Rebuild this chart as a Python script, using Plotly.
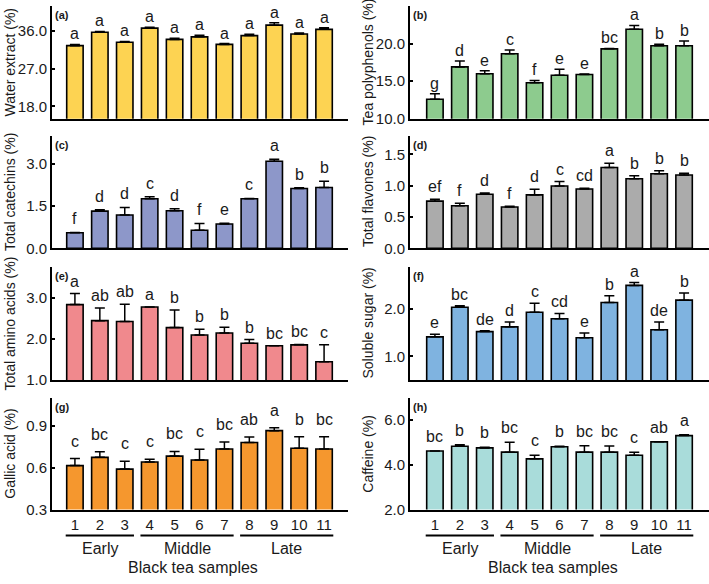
import plotly.graph_objects as go

W, H = 709, 584  # reference canvas size (used to convert pixel layout to paper fractions)

samples = [1, 2, 3, 4, 5, 6, 7, 8, 9, 10, 11]
sample_labels = ["1", "2", "3", "4", "5", "6", "7", "8", "9", "10", "11"]

water = [32.5, 35.7, 33.3, 36.7, 34.0, 34.6, 32.8, 34.9, 37.4, 35.3, 36.4]
water_err = [0.3, 0.2, 0.2, 0.2, 0.3, 0.4, 0.2, 0.3, 0.6, 0.2, 0.4]
water_sig = ["a"] * 11

poly = [12.6, 16.9, 16.0, 18.65, 14.8, 15.8, 15.9, 19.3, 21.9, 19.7, 19.7]
poly_err = [0.75, 0.8, 0.4, 0.5, 0.3, 0.8, 0.05, 0.05, 0.5, 0.2, 0.65]
poly_sig = ["g", "d", "e", "c", "f", "e", "e", "bc", "a", "b", "b"]

catechin = [0.55, 1.32, 1.18, 1.76, 1.33, 0.64, 0.86, 1.76, 3.09, 2.12, 2.16]
catechin_err = [0.01, 0.05, 0.27, 0.07, 0.07, 0.24, 0.03, 0.01, 0.07, 0.03, 0.22]
catechin_sig = ["f", "d", "d", "c", "d", "f", "e", "c", "a", "b", "b"]

flavone = [0.753, 0.68, 0.864, 0.66, 0.853, 0.995, 0.948, 1.29, 1.11, 1.19, 1.17]
flavone_err = [0.03, 0.04, 0.02, 0.01, 0.09, 0.07, 0.01, 0.07, 0.05, 0.05, 0.03]
flavone_sig = ["ef", "f", "d", "f", "d", "c", "cd", "a", "b", "b", "b"]

amino = [2.84, 2.45, 2.43, 2.78, 2.28, 2.10, 2.15, 1.90, 1.84, 1.86, 1.45]
amino_err = [0.27, 0.31, 0.42, 0.0, 0.43, 0.14, 0.14, 0.09, 0.0, 0.01, 0.41]
amino_sig = ["a", "ab", "ab", "a", "b", "b", "b", "b", "bc", "bc", "c"]

sugar = [1.41, 2.03, 1.52, 1.62, 1.925, 1.79, 1.39, 2.13, 2.49, 1.56, 2.18]
sugar_err = [0.055, 0.03, 0.02, 0.1, 0.19, 0.11, 0.1, 0.14, 0.06, 0.16, 0.15]
sugar_sig = ["e", "bc", "de", "d", "c", "cd", "e", "b", "a", "de", "b"]

gallic = [0.615, 0.674, 0.59, 0.641, 0.683, 0.655, 0.734, 0.78, 0.865, 0.739, 0.734]
gallic_err = [0.05, 0.04, 0.056, 0.02, 0.033, 0.077, 0.05, 0.04, 0.02, 0.082, 0.087]
gallic_sig = ["c", "bc", "c", "c", "bc", "c", "bc", "ab", "a", "b", "bc"]

caffeine = [4.62, 4.83, 4.76, 4.57, 4.27, 4.81, 4.57, 4.57, 4.43, 5.03, 5.31]
caffeine_err = [0.0, 0.07, 0.03, 0.44, 0.16, 0.02, 0.29, 0.27, 0.13, 0.0, 0.04]
caffeine_sig = ["bc", "b", "b", "bc", "c", "b", "bc", "bc", "c", "ab", "a"]

groups = ["Early", "Middle", "Late"]
group_first = [1, 4, 8]
group_last = [3, 7, 11]

panels = [
    dict(tag="(a)", title="Water extract (%)", v=water, e=water_err, s=water_sig,
         color="#FDD352", rng=[15, 42], tv=[18, 27, 36], tt=["18.0", "27.0", "36.0"], shift=0),
    dict(tag="(b)", title="Tea polyphenols (%)", v=poly, e=poly_err, s=poly_sig,
         color="#8DCB8E", rng=[10, 25], tv=[10, 15, 20], tt=["10.0", "15.0", "20.0"], shift=0),
    dict(tag="(c)", title="Total catechins (%)", v=catechin, e=catechin_err, s=catechin_sig,
         color="#8D97C9", rng=[0, 4], tv=[0, 1.5, 3.0], tt=["0.0", "1.5", "3.0"], shift=3),
    dict(tag="(d)", title="Total flavones (%)", v=flavone, e=flavone_err, s=flavone_sig,
         color="#ABABAB", rng=[0, 1.8], tv=[0, 0.5, 1.0, 1.5], tt=["0.0", "0.5", "1.0", "1.5"], shift=2),
    dict(tag="(e)", title="Total amino acids (%)", v=amino, e=amino_err, s=amino_sig,
         color="#F0898D", rng=[1.0, 3.76], tv=[1.0, 2.0, 3.0], tt=["1.0", "2.0", "3.0"], shift=2),
    dict(tag="(f)", title="Soluble sugar (%)", v=sugar, e=sugar_err, s=sugar_sig,
         color="#7FB3E0", rng=[0.5, 2.88], tv=[1.0, 2.0], tt=["1.0", "2.0"], shift=1),
    dict(tag="(g)", title="Gallic acid (%)", v=gallic, e=gallic_err, s=gallic_sig,
         color="#F5972E", rng=[0.3, 1.1], tv=[0.3, 0.6, 0.9], tt=["0.3", "0.6", "0.9"], shift=7),
    dict(tag="(h)", title="Caffeine (%)", v=caffeine, e=caffeine_err, s=caffeine_sig,
         color="#A9DCDA", rng=[2, 7], tv=[2, 4, 6], tt=["2.0", "4.0", "6.0"], shift=4),
]

FONT = "Arial, Liberation Sans, sans-serif"
TXT = "#1a1a1a"

cols = [(52, 348, [0.08, 11.96]), (410, 709, [0, 12])]
rows = [(6, 120.5), (137.5, 251.7), (270.5, 385.5), (403.3, 516.7)]
title_x = [10, 368]

fig = go.Figure()
annotations = []
shapes = []

for i, p in enumerate(panels):
    n = i + 1
    c = i % 2
    r = i // 2
    xl, xr, xrng = cols[c]
    yt, yb = rows[r]
    xa = "x" if n == 1 else f"x{n}"
    ya = "y" if n == 1 else f"y{n}"
    fig.add_trace(go.Bar(
        x=samples, y=p["v"], xaxis=xa, yaxis=ya, width=0.66,
        marker=dict(color=p["color"], line=dict(color="black", width=1.6)),
        error_y=dict(type="data", symmetric=False, array=p["e"], arrayminus=[0] * 11,
                     color="black", thickness=1.5, width=5),
        showlegend=False, hoverinfo="skip",
    ))
    bottom_row = r == 3
    fig.layout[f"xaxis{n}" if n > 1 else "xaxis"] = dict(
        domain=[xl / W, xr / W], range=xrng, anchor=ya,
        showline=True, linewidth=2, linecolor="black", ticks="",
        tickvals=samples, ticktext=sample_labels, showticklabels=bottom_row,
        tickfont=dict(family=FONT, size=15, color=TXT),
        showgrid=False, zeroline=False, fixedrange=True,
    )
    fig.layout[f"yaxis{n}" if n > 1 else "yaxis"] = dict(
        domain=[1 - yb / H, 1 - yt / H], range=p["rng"], anchor=xa,
        showline=True, linewidth=2, linecolor="black",
        ticks="inside", ticklen=3, tickwidth=1.5, tickcolor="black",
        tickvals=p["tv"], ticktext=p["tt"],
        tickfont=dict(family=FONT, size=15, color=TXT),
        showgrid=False, zeroline=False, fixedrange=True,
    )
    for xv, v, e, s in zip(samples, p["v"], p["e"], p["s"]):
        annotations.append(dict(
            x=xv, y=v + e, xref=xa, yref=ya, text=s, showarrow=False,
            xanchor="center", yanchor="bottom", yshift=p["shift"],
            font=dict(family=FONT, size=16, color=TXT),
        ))
    annotations.append(dict(
        x=(xl + 1) / W, y=1 - (yt + 1) / H, xref="paper", yref="paper",
        text=f"<b>{p['tag']}</b>", showarrow=False, xanchor="left", yanchor="top",
        font=dict(family=FONT, size=11, color=TXT),
    ))
    annotations.append(dict(
        x=title_x[c] / W, y=1 - ((yt + yb) / 2) / H, xref="paper", yref="paper",
        text=p["title"], showarrow=False, textangle=-90,
        xanchor="center", yanchor="middle",
        font=dict(family=FONT, size=14, color=TXT),
    ))
    if bottom_row:
        for g, f0, f1 in zip(groups, group_first, group_last):
            shapes.append(dict(
                type="line", xref=xa, yref="paper",
                x0=f0 - 0.37, x1=f1 + 0.37, y0=1 - 543 / H, y1=1 - 543 / H,
                line=dict(color="black", width=2),
            ))
            annotations.append(dict(
                x=(f0 + f1) / 2, y=1 - 556 / H, xref=xa, yref="paper",
                text=g, showarrow=False, xanchor="center", yanchor="middle",
                font=dict(family=FONT, size=16, color=TXT),
            ))
        annotations.append(dict(
            x=5.75, y=1 - 575.5 / H, xref=xa, yref="paper",
            text="Black tea samples", showarrow=False, xanchor="center", yanchor="middle",
            font=dict(family=FONT, size=16, color=TXT),
        ))

fig.update_layout(
    autosize=True, margin=dict(l=0, r=0, t=0, b=0, pad=0),
    paper_bgcolor="white", plot_bgcolor="white",
    annotations=annotations, shapes=shapes, bargap=0.34,
    font=dict(family=FONT, color=TXT),
)

fig.write_html(
    "out.html",
    default_width="100%",
    default_height="100vh",
    config={"displayModeBar": False, "responsive": True},
    post_script=(
        "document.documentElement.style.margin='0';"
        "document.body.style.margin='0';document.body.style.padding='0';"
        "document.body.style.overflow='hidden';"
        "var gd=document.getElementById('{plot_id}');"
        "Plotly.Plots.resize(gd);"
    ),
)
